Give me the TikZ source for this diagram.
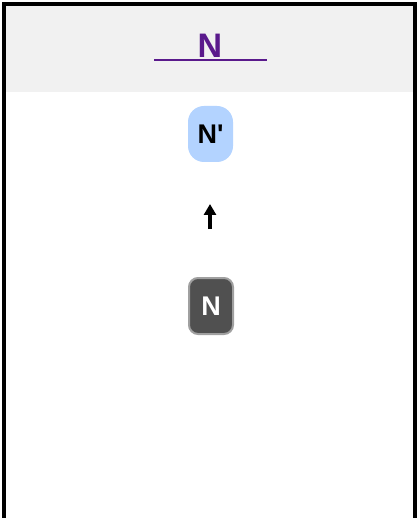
\documentclass[tikz,border=0pt]{standalone}
\usepackage{fontspec}
\setmainfont{Liberation Sans}[Ligatures=TeXOff]
\usetikzlibrary{arrows.meta}
\definecolor{hdrgray}{HTML}{F1F1F1}
\definecolor{purp}{HTML}{5A1A8C}
\definecolor{ltblue}{HTML}{B3D3FF}
\definecolor{dkgray}{HTML}{505050}
\definecolor{edgegray}{HTML}{A0A0A0}
\begin{document}
\begin{tikzpicture}[x=1pt,y=-1pt,
  header/.style={font=\bfseries\fontsize{34}{34}\selectfont, text=purp, inner sep=0pt},
  target/.style={fill=ltblue, rounded corners=16pt, minimum width=45pt, minimum height=56pt, inner sep=0pt, font=\bfseries\fontsize{27}{27}\selectfont, text=black},
  source/.style={fill=dkgray, draw=edgegray, line width=2pt, rounded corners=9pt, minimum width=44pt, minimum height=56pt, inner sep=0pt, font=\bfseries\fontsize{27}{27}\selectfont, text=white},
  uparrow/.style={line width=4.5pt, -{Triangle[length=11pt,width=12pt]}}
]
\useasboundingbox (0,0) rectangle (417,518);
\fill[white] (0,0) rectangle (417,518);
\fill[hdrgray] (6,6) rectangle (413,92);
\draw[line width=4pt] (4,518) -- (4,4) -- (414.5,4) -- (414.5,518);
\node[header] (title) at (210,45.5) {N};
\coordinate (ulA) at (154,60);
\coordinate (ulB) at (267,60);
\draw[purp, line width=2pt] (ulA) -- (ulB);
\node[target] (np) at (210.5,134) {N'};
\node[source] (n) at (211,306) {N};
\coordinate (arrA) at (210,229);
\coordinate (arrB) at (210,204);
\draw[uparrow] (arrA) -- (arrB);
\end{tikzpicture}
\end{document}
